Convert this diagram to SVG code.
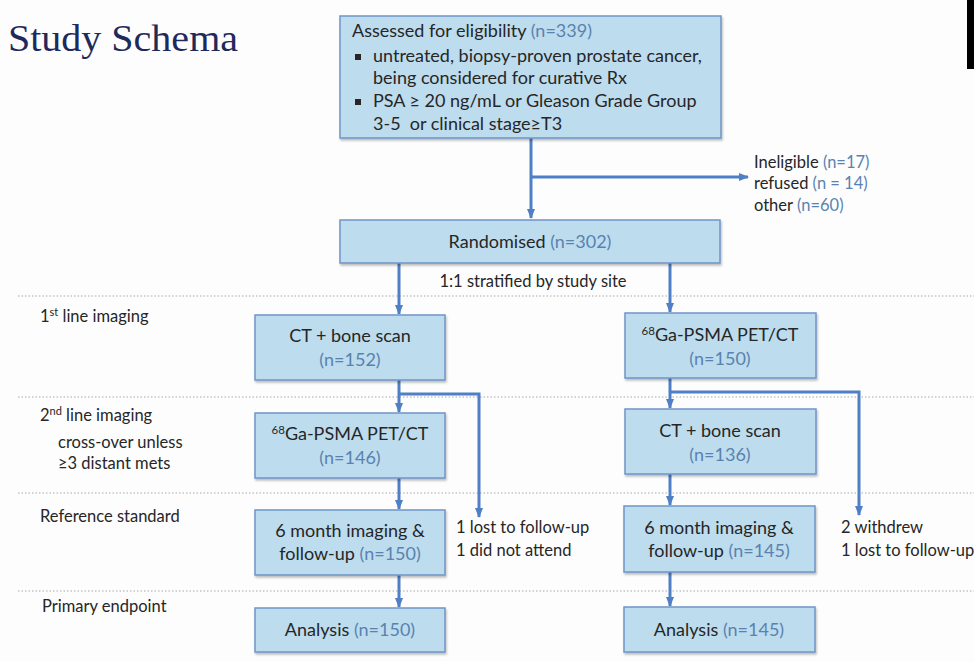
<svg xmlns="http://www.w3.org/2000/svg" width="974" height="662" viewBox="0 0 974 662">
<defs>
<style>
.t{font-family:Lato,"Open Sans","Liberation Sans",sans-serif;fill:#262626;}
.n{fill:#5a82b0;}
.box{fill:#bddcee;stroke:#6f95c6;stroke-width:1.5;}
.c{fill:none;stroke:#4f7fc4;stroke-width:3;}
.sep{stroke:#c4c4c4;stroke-width:1.5;stroke-dasharray:1.5 2;}
</style>
<marker id="ah" viewBox="0 0 10 10" refX="9" refY="5" markerWidth="10" markerHeight="10" markerUnits="userSpaceOnUse" orient="auto">
<path d="M0,1 L10,5 L0,9 Z" fill="#4f7fc4"/>
</marker>
<filter id="sh" x="-5%" y="-5%" width="115%" height="120%">
<feDropShadow dx="1" dy="2" stdDeviation="1.2" flood-color="#000" flood-opacity="0.25"/>
</filter>
</defs>
<rect width="974" height="662" fill="#fdfdfd"/>
<rect x="967" y="0" width="7" height="69" fill="#000"/>
<text x="8" y="51" font-family="'Liberation Serif',serif" font-size="38" fill="#1f2a5c" textLength="230" lengthAdjust="spacingAndGlyphs">Study Schema</text>

<g id="separators">
<line class="sep" x1="18" y1="296" x2="974" y2="296"/>
<line class="sep" x1="18" y1="397" x2="974" y2="397"/>
<line class="sep" x1="18" y1="493" x2="974" y2="493"/>
<line class="sep" x1="18" y1="591" x2="974" y2="591"/>
</g>

<g id="row-labels" class="t" font-size="16.5">
<text x="40" y="322" class="t">1<tspan font-size="11" dy="-6">st</tspan><tspan dy="6"> line imaging</tspan></text>
<text x="40" y="421" class="t">2<tspan font-size="11" dy="-6">nd</tspan><tspan dy="6"> line imaging</tspan></text>
<text x="58" y="448" class="t">cross-over unless</text>
<text x="58" y="469" class="t">≥3 distant mets</text>
<text x="40" y="522" class="t">Reference standard</text>
<text x="42" y="612" class="t">Primary endpoint</text>
</g>

<g id="connectors">
<path class="c" d="M531,138 V218" marker-end="url(#ah)"/>
<path class="c" d="M531,177 H748" marker-end="url(#ah)"/>
<path class="c" d="M399,263 V314" marker-end="url(#ah)"/>
<path class="c" d="M670,263 V312" marker-end="url(#ah)"/>
<path class="c" d="M399,380 V412" marker-end="url(#ah)"/>
<path class="c" d="M399,394 H479 V517" marker-end="url(#ah)"/>
<path class="c" d="M670,378 V408" marker-end="url(#ah)"/>
<path class="c" d="M670,392 H859 V515" marker-end="url(#ah)"/>
<path class="c" d="M399,478 V509" marker-end="url(#ah)"/>
<path class="c" d="M670,474 V505" marker-end="url(#ah)"/>
<path class="c" d="M399,575 V607" marker-end="url(#ah)"/>
<path class="c" d="M670,572 V606" marker-end="url(#ah)"/>
</g>

<g id="assessed">
<rect class="box" x="340" y="16" width="381" height="122" filter="url(#sh)"/>
<text class="t" x="352" y="37" font-size="18">Assessed for eligibility <tspan class="n">(n=339)</tspan></text>
<rect x="355" y="54" width="6" height="6" fill="#262626"/>
<text class="t" x="373" y="62" font-size="18">untreated, biopsy-proven prostate cancer,</text>
<text class="t" x="373" y="84" font-size="18">being considered for curative Rx</text>
<rect x="355" y="99" width="6" height="6" fill="#262626"/>
<text class="t" x="373" y="107" font-size="18">PSA ≥ 20 ng/mL or Gleason Grade Group</text>
<text class="t" x="373" y="130" font-size="18" xml:space="preserve">3-5  or clinical stage≥T3</text>
</g>

<g id="excluded" class="t" font-size="16.5">
<text class="t" x="754" y="168">Ineligible <tspan class="n">(n=17)</tspan></text>
<text class="t" x="754" y="189">refused <tspan class="n">(n = 14)</tspan></text>
<text class="t" x="754" y="211">other <tspan class="n">(n=60)</tspan></text>
</g>

<g id="randomised">
<rect class="box" x="340" y="220" width="380" height="43" filter="url(#sh)"/>
<text class="t" x="530" y="248" font-size="18" text-anchor="middle">Randomised <tspan class="n">(n=302)</tspan></text>
</g>
<text class="t" x="533" y="287" font-size="16.5" text-anchor="middle">1:1 stratified by study site</text>

<g id="ct-first">
<rect class="box" x="255" y="315" width="190" height="65" filter="url(#sh)"/>
<text class="t" x="350" y="342" font-size="18" text-anchor="middle">CT + bone scan</text>
<text class="t n" x="350" y="366" font-size="18" text-anchor="middle">(n=152)</text>
</g>

<g id="psma-first">
<rect class="box" x="625" y="313" width="191" height="65" filter="url(#sh)"/>
<text class="t" x="720" y="341" font-size="18" text-anchor="middle"><tspan font-size="11.5" dy="-6">68</tspan><tspan dy="6">Ga-PSMA PET/CT</tspan></text>
<text class="t n" x="720" y="365" font-size="18" text-anchor="middle">(n=150)</text>
</g>

<g id="psma-second">
<rect class="box" x="255" y="413" width="190" height="65" filter="url(#sh)"/>
<text class="t" x="350" y="440" font-size="18" text-anchor="middle"><tspan font-size="11.5" dy="-6">68</tspan><tspan dy="6">Ga-PSMA PET/CT</tspan></text>
<text class="t n" x="350" y="464" font-size="18" text-anchor="middle">(n=146)</text>
</g>

<g id="ct-second">
<rect class="box" x="625" y="409" width="191" height="65" filter="url(#sh)"/>
<text class="t" x="720" y="437" font-size="18" text-anchor="middle">CT + bone scan</text>
<text class="t n" x="720" y="461" font-size="18" text-anchor="middle">(n=136)</text>
</g>

<g id="dropout-left" class="t" font-size="16.5">
<text class="t" x="456" y="533">1 lost to follow-up</text>
<text class="t" x="456" y="556">1 did not attend</text>
</g>
<g id="dropout-right" class="t" font-size="16.5">
<text class="t" x="841" y="533">2 withdrew</text>
<text class="t" x="841" y="556">1 lost to follow-up</text>
</g>

<g id="ref-left">
<rect class="box" x="255" y="510" width="190" height="65" filter="url(#sh)"/>
<text class="t" x="350" y="537" font-size="18" text-anchor="middle">6 month imaging &amp;</text>
<text class="t" x="350" y="560" font-size="18" text-anchor="middle">follow-up <tspan class="n">(n=150)</tspan></text>
</g>

<g id="ref-right">
<rect class="box" x="624" y="506" width="191" height="66" filter="url(#sh)"/>
<text class="t" x="719" y="534" font-size="18" text-anchor="middle">6 month imaging &amp;</text>
<text class="t" x="719" y="557" font-size="18" text-anchor="middle">follow-up <tspan class="n">(n=145)</tspan></text>
</g>

<g id="analysis-left">
<rect class="box" x="255" y="608" width="190" height="44" filter="url(#sh)"/>
<text class="t" x="350" y="636" font-size="18" text-anchor="middle">Analysis <tspan class="n">(n=150)</tspan></text>
</g>

<g id="analysis-right">
<rect class="box" x="624" y="607" width="191" height="45" filter="url(#sh)"/>
<text class="t" x="719" y="636" font-size="18" text-anchor="middle">Analysis <tspan class="n">(n=145)</tspan></text>
</g>
</svg>
